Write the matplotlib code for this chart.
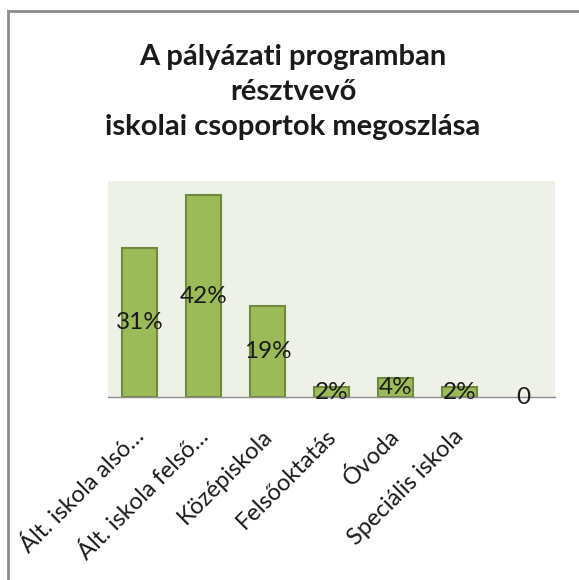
import matplotlib
matplotlib.use('Agg')
import matplotlib.pyplot as plt
import matplotlib.transforms as mtransforms
from matplotlib.lines import Line2D

plt.rcParams['font.family'] = ['Lato', 'DejaVu Sans']

categories = ['Ált. iskola alsó…', 'Ált. iskola felső…', 'Középiskola',
              'Felsőoktatás', 'Óvoda', 'Speciális iskola']
values = [31, 42, 19, 2, 4, 2, 0]
labels = ['31%', '42%', '19%', '2%', '4%', '2%', '0']
tick_labels = categories + ['']

fig = plt.figure(figsize=(5.79, 5.80), dpi=100)
ax = fig.add_axes([0.1865, 0.3155, 0.772, 0.3725])
ax.set_facecolor('#EEF1E8')

x = range(len(values))
ax.bar(x, values, width=0.55, color='#9BBB59', edgecolor='#71893F',
       linewidth=[1.5 if v else 0 for v in values], zorder=2)
ax.set_xlim(-0.5, len(values) - 0.5)
ax.set_ylim(0, 45)

for xi, v, lab in zip(x, values, labels):
    ax.text(xi, v / 2, lab, ha='center', va='center', fontsize=17.5, color='#1a1a1a', zorder=3)

for s in ['top', 'right', 'left']:
    ax.spines[s].set_visible(False)
ax.spines['bottom'].set_color('#8c8c8c')
ax.spines['bottom'].set_linewidth(1)
ax.set_yticks([])
ax.set_xticks(list(x))
ax.set_xticklabels(tick_labels, rotation=45, ha='right', va='center', rotation_mode='anchor',
                   fontsize=17, color='#1a1a1a')
ax.tick_params(axis='x', length=0, pad=0)
offset = mtransforms.ScaledTranslation(0.01, -0.36, fig.dpi_scale_trans)
for t in ax.get_xticklabels():
    t.set_transform(t.get_transform() + offset)

fig.text(0.506, 0.841, 'A pályázati programban\nrésztvevő\niskolai csoportok megoszlása',
         ha='center', va='center', fontsize=21, fontweight='bold', linespacing=1.42, color='#1a1a1a')

# chart frame (top and left edges visible)
fig.add_artist(Line2D([8 / 579, 1], [1 - 11 / 580, 1 - 11 / 580], transform=fig.transFigure,
                      color='#8c8c8c', linewidth=2))
fig.add_artist(Line2D([8 / 579, 8 / 579], [0, 1 - 11 / 580], transform=fig.transFigure,
                      color='#8c8c8c', linewidth=2))

fig.savefig('out.png', dpi=100)
